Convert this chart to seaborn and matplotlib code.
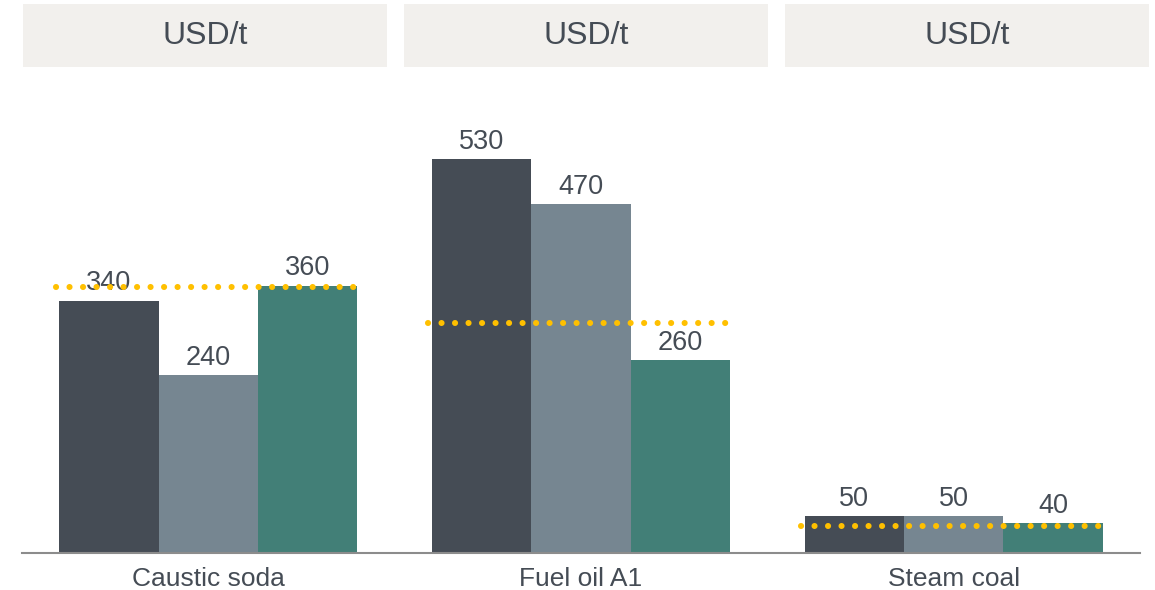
import numpy as np
import pandas as pd
import matplotlib.pyplot as plt
from matplotlib.patches import Rectangle
import seaborn as sns

# Data
products = ["Caustic soda", "Fuel oil A1", "Steam coal"]
series = ["Series 1", "Series 2", "Series 3"]
values_s1 = [340, 530, 50]
values_s2 = [240, 470, 50]
values_s3 = [360, 260, 40]
reference = [358, 310, 37]
headers = ["USD/t", "USD/t", "USD/t"]

colors = ["#454c55", "#768691", "#427f77"]
text_color = "#454c55"

df = pd.DataFrame({
    "product": products * 3,
    "series": np.repeat(series, 3),
    "value": values_s1 + values_s2 + values_s3,
})

sns.set_style("white")
plt.rcParams["font.family"] = ["Liberation Sans", "DejaVu Sans"]

W, H = 1155, 590
fig = plt.figure(figsize=(W / 100, H / 100), dpi=100)
ax = fig.add_axes([22 / W, 1 - 553 / H, (1140 - 22) / W, (553 - 100) / H])

sns.barplot(data=df, x="product", y="value", hue="series", palette=colors,
            saturation=1, width=0.8, legend=False, linewidth=0, ax=ax)

for c in ax.containers:
    ax.bar_label(c, fmt="%d", padding=3, fontsize=19.5, color=text_color)

# dotted reference lines
for i, r in enumerate(reference):
    ax.plot([i - 0.41, i + 0.41], [r, r], color="#ffc000", linewidth=4.4,
            linestyle=(0, (0.01, 2.2)), dash_capstyle="round", zorder=4)

ax.set_xlim(-0.5, 2.5)
ax.set_ylim(0, 610)
ax.set_xlabel("")
ax.set_ylabel("")
ax.set_yticks([])
ax.tick_params(axis="x", length=0, labelsize=19, labelcolor=text_color, pad=10)
for s in ["top", "right", "left"]:
    ax.spines[s].set_visible(False)
ax.spines["bottom"].set_color("#8c8c8c")
ax.spines["bottom"].set_linewidth(1.5)

# header boxes
box_x = [23, 404, 785]
for x0, txt in zip(box_x, headers):
    fig.add_artist(Rectangle((x0 / W, 1 - 67 / H), 364 / W, 63 / H,
                             transform=fig.transFigure, facecolor="#f2f0ed",
                             edgecolor="none"))
    fig.text((x0 + 182) / W, 1 - 36 / H, txt, ha="center", va="center",
             fontsize=23, color=text_color)

plt.savefig("out.png", dpi=100)
